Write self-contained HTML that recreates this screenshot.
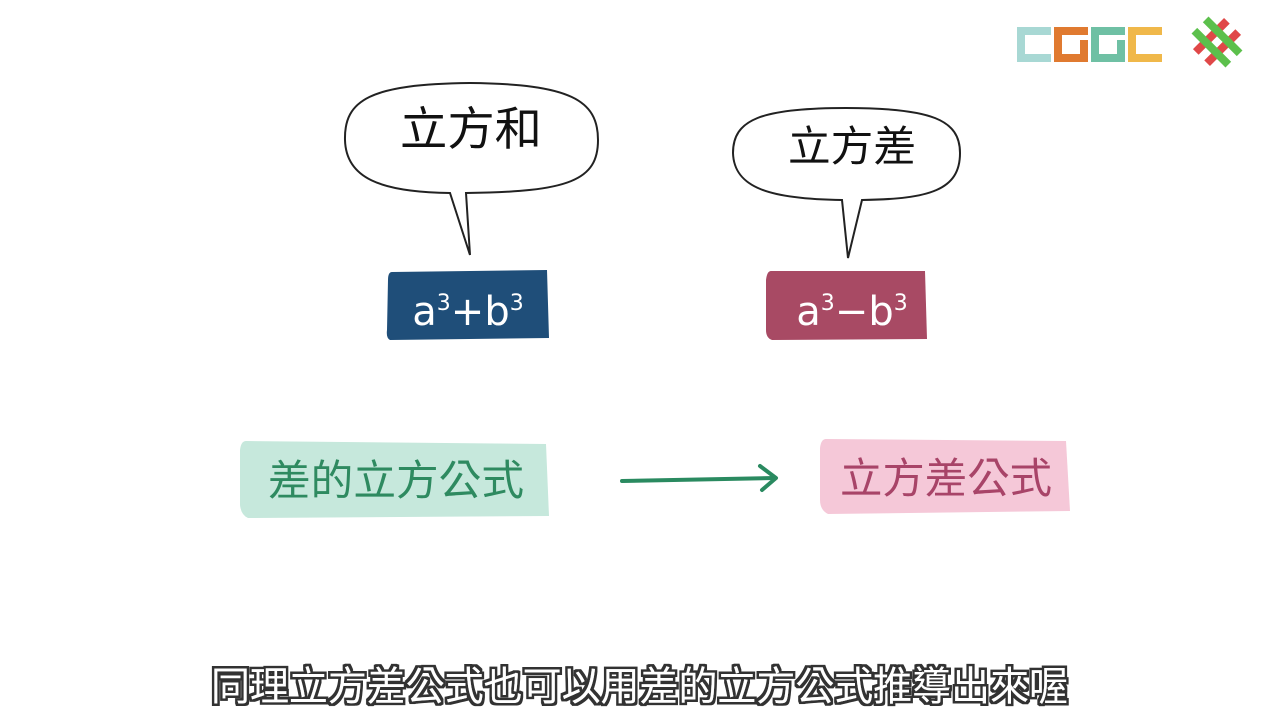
<!DOCTYPE html>
<html><head><meta charset="utf-8"><style>
html,body{margin:0;padding:0;background:#fff;}
body{width:1280px;height:720px;position:relative;overflow:hidden;}
</style></head><body>
<svg width="1280" height="720" style="position:absolute;left:0;top:0" font-family="'Noto Sans CJK TC', sans-serif">
<defs>
<filter id="o" x="-5%" y="-20%" width="110%" height="140%">
<feMorphology in="SourceAlpha" operator="dilate" radius="2.5" result="d"/>
<feFlood flood-color="#333"/><feComposite in2="d" operator="in" result="s"/>
<feMerge><feMergeNode in="s"/><feMergeNode in="SourceGraphic"/></feMerge>
</filter>
</defs>
<g>
<rect x="1017" y="27" width="34" height="8" fill="#a8d8d4"/><rect x="1017" y="27" width="8" height="34" fill="#a8d8d4"/><rect x="1017" y="54" width="34" height="8" fill="#a8d8d4"/>
<rect x="1054" y="27" width="34" height="8" fill="#e07a30"/><rect x="1054" y="27" width="8" height="34" fill="#e07a30"/><rect x="1054" y="54" width="34" height="8" fill="#e07a30"/><rect x="1080" y="40" width="8" height="22" fill="#e07a30"/>
<rect x="1091" y="27" width="34" height="8" fill="#6fc0a4"/><rect x="1091" y="27" width="8" height="34" fill="#6fc0a4"/><rect x="1091" y="54" width="34" height="8" fill="#6fc0a4"/><rect x="1117" y="40" width="8" height="22" fill="#6fc0a4"/>
<rect x="1128" y="27" width="34" height="8" fill="#f0b84a"/><rect x="1128" y="27" width="8" height="34" fill="#f0b84a"/><rect x="1128" y="54" width="34" height="8" fill="#f0b84a"/>
<g transform="translate(1217,42) rotate(-45)">
<rect x="-22" y="-12" width="44" height="8" fill="#e04848"/><rect x="-22" y="4" width="44" height="8" fill="#e04848"/>
<rect x="-12" y="-24" width="8" height="48" fill="#5cc04c"/><rect x="4" y="-24" width="8" height="48" fill="#5cc04c"/>
</g>
</g>
<path d="M450 193 C380 192 346 178 345 140 C344 100 370 84 470 83 C570 84 598 100 598 140 C598 180 570 192 466 193 L470 255 L450 193 Z" fill="#fff" stroke="#222" stroke-width="2"/>
<text x="400" y="145" font-size="46" textLength="142" lengthAdjust="spacingAndGlyphs" fill="#111">立方和</text>
<path d="M842 200 C770 199 734 188 733 153 C733 120 760 108 846 108 C932 108 960 120 960 153 C960 190 930 199 862 200 L848 258 Z" fill="#fff" stroke="#222" stroke-width="2"/>
<text x="788" y="161" font-size="42" textLength="128" lengthAdjust="spacingAndGlyphs" fill="#111">立方差</text>
<path d="M392 272 L547 270 L549 338 L390 340 Q386 338 387 330 L388 280 Q388 272 392 272Z" fill="#1f4e79"/>
<text x="468" y="325" font-size="40" text-anchor="middle" fill="#fff" font-family="'DejaVu Sans', sans-serif">a<tspan font-size="22" dy="-15">3</tspan><tspan dy="15">+b</tspan><tspan font-size="22" dy="-15">3</tspan></text>
<path d="M771 271 L925 271 L927 339 L772 340 Q766 338 766 330 L766 280 Q767 271 771 271Z" fill="#a84a64"/>
<text x="852" y="325" font-size="40" text-anchor="middle" fill="#fff" font-family="'DejaVu Sans', sans-serif">a<tspan font-size="22" dy="-15">3</tspan><tspan dy="15">−b</tspan><tspan font-size="22" dy="-15">3</tspan></text>
<path d="M246 441 L546 444 L549 516 L248 518 Q241 515 240 505 L240 450 Q241 441 246 441Z" fill="#c6e8dc"/>
<text x="268" y="495" font-size="42" textLength="256" lengthAdjust="spacingAndGlyphs" fill="#2e8a60">差的立方公式</text>
<path d="M826 439 L1066 441 L1070 511 L828 514 Q820 510 820 500 L820 448 Q821 439 826 439Z" fill="#f5c8d8"/>
<text x="840" y="493" font-size="42" textLength="212" lengthAdjust="spacingAndGlyphs" fill="#a84468">立方差公式</text>
<path d="M622 481 L774 478" stroke="#2a8a60" stroke-width="4" stroke-linecap="round" fill="none"/>
<path d="M760 466 L776 478 L762 490" stroke="#2a8a60" stroke-width="4" stroke-linecap="round" stroke-linejoin="round" fill="none"/>
<text x="211" y="700" font-size="40" textLength="857" lengthAdjust="spacingAndGlyphs" fill="#fff" filter="url(#o)">同理立方差公式也可以用差的立方公式推導出來喔</text>
</svg>
</body></html>
